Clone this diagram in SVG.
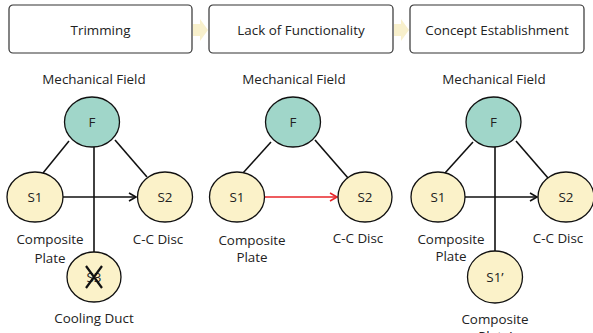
<svg xmlns="http://www.w3.org/2000/svg" width="593" height="333" viewBox="0 0 593 333">
<defs>
<marker id="ah" markerWidth="10" markerHeight="10" refX="8" refY="5" orient="auto" markerUnits="userSpaceOnUse"><path d="M1,1 L8,5 L1,9" fill="none" stroke="#111" stroke-width="1.6"/></marker>
<marker id="ahr" markerWidth="10" markerHeight="10" refX="8" refY="5" orient="auto" markerUnits="userSpaceOnUse"><path d="M1,1 L8,5 L1,9" fill="none" stroke="#e8262a" stroke-width="1.6"/></marker>
</defs>
<style>
text{font-family:"Open Sans","Noto Sans",sans-serif;font-size:13.4px;fill:#222;text-anchor:middle}
.box{fill:#fff;stroke:#333;stroke-width:1.2}
.f{fill:#a0d6c9;stroke:#111;stroke-width:1.3}
.s{fill:#fbf2c9;stroke:#111;stroke-width:1.3}
.ln{stroke:#111;stroke-width:1.6;fill:none}
.red{stroke:#e8262a;stroke-width:1.6;fill:none}
.chev{fill:#f8f0cc}
</style>
<g id="step1"><rect class="box" x="9" y="5" width="183" height="48" rx="4"/><text x="100.5" y="35">Trimming</text></g>
<g id="step2"><rect class="box" x="209" y="5" width="184" height="48" rx="4"/><text x="301" y="35">Lack of Functionality</text></g>
<g id="step3"><rect class="box" x="410" y="5" width="174" height="48" rx="4"/><text x="497" y="35">Concept Establishment</text></g>
<g id="chevrons">
<polygon class="chev" points="193,24 200,24 200,19 208,30 200,41 200,36 193,36"/>
<polygon class="chev" points="394,24 401,24 401,19 409,30 401,41 401,36 394,36"/>
</g>
<g id="connectors">
<line class="ln" x1="69" y1="141" x2="43" y2="173"/>
<line class="ln" x1="115" y1="140" x2="147" y2="177"/>
<line class="ln" x1="94" y1="147" x2="94" y2="252"/>
<line class="ln" x1="63" y1="197" x2="136" y2="197" marker-end="url(#ah)"/>
<line class="ln" x1="271" y1="142" x2="243" y2="173"/>
<line class="ln" x1="315" y1="140" x2="348" y2="178"/>
<line class="red" x1="264" y1="197" x2="337" y2="197" marker-end="url(#ahr)"/>
<line class="ln" x1="473" y1="142" x2="445" y2="173"/>
<line class="ln" x1="516" y1="141" x2="548" y2="178"/>
<line class="ln" x1="495" y1="147" x2="495" y2="251"/>
<line class="ln" x1="465" y1="197" x2="537" y2="197" marker-end="url(#ah)"/>
</g>
<g id="p1-F"><ellipse class="f" cx="92" cy="122" rx="27.5" ry="25"/><text x="92" y="127">F</text></g>
<g id="p1-S1"><ellipse class="s" cx="35" cy="197" rx="28" ry="25"/><text x="35" y="202">S1</text></g>
<g id="p1-S2"><ellipse class="s" cx="165" cy="197" rx="27.5" ry="25"/><text x="165" y="202">S2</text></g>
<g id="p1-S3"><ellipse class="s" cx="94" cy="277" rx="27" ry="25"/><text x="94" y="282">S3</text>
<path d="M86,266 L102,288 M102,266 L86,288" stroke="#111" stroke-width="2.2" fill="none"/></g>
<g id="p1-labels">
<text x="94" y="84">Mechanical Field</text>
<text x="50" y="244">Composite</text><text x="50" y="263">Plate</text>
<text x="158" y="244">C-C Disc</text>
<text x="94" y="323">Cooling Duct</text>
</g>
<g id="p2-F"><ellipse class="f" cx="293" cy="122" rx="27.5" ry="25"/><text x="293" y="127">F</text></g>
<g id="p2-S1"><ellipse class="s" cx="237" cy="197" rx="27.5" ry="25"/><text x="237" y="202">S1</text></g>
<g id="p2-S2"><ellipse class="s" cx="365" cy="197" rx="27" ry="25"/><text x="365" y="202">S2</text></g>
<g id="p2-labels">
<text x="294" y="84">Mechanical Field</text>
<text x="252" y="245">Composite</text><text x="252" y="262">Plate</text>
<text x="358" y="243">C-C Disc</text>
</g>
<g id="p3-F"><ellipse class="f" cx="493.5" cy="122" rx="27.5" ry="25"/><text x="493.5" y="127">F</text></g>
<g id="p3-S1"><ellipse class="s" cx="438" cy="197" rx="27" ry="25"/><text x="438" y="202">S1</text></g>
<g id="p3-S2"><ellipse class="s" cx="566" cy="197" rx="28" ry="25"/><text x="566" y="202">S2</text></g>
<g id="p3-S1p"><ellipse class="s" cx="495" cy="277" rx="27.5" ry="26"/><text x="495" y="282">S1’</text></g>
<g id="p3-labels">
<text x="494" y="84">Mechanical Field</text>
<text x="451" y="244">Composite</text><text x="451" y="261">Plate</text>
<text x="558" y="243">C-C Disc</text>
<text x="495" y="324">Composite</text><text x="495" y="341">Plate’</text>
</g>
</svg>
